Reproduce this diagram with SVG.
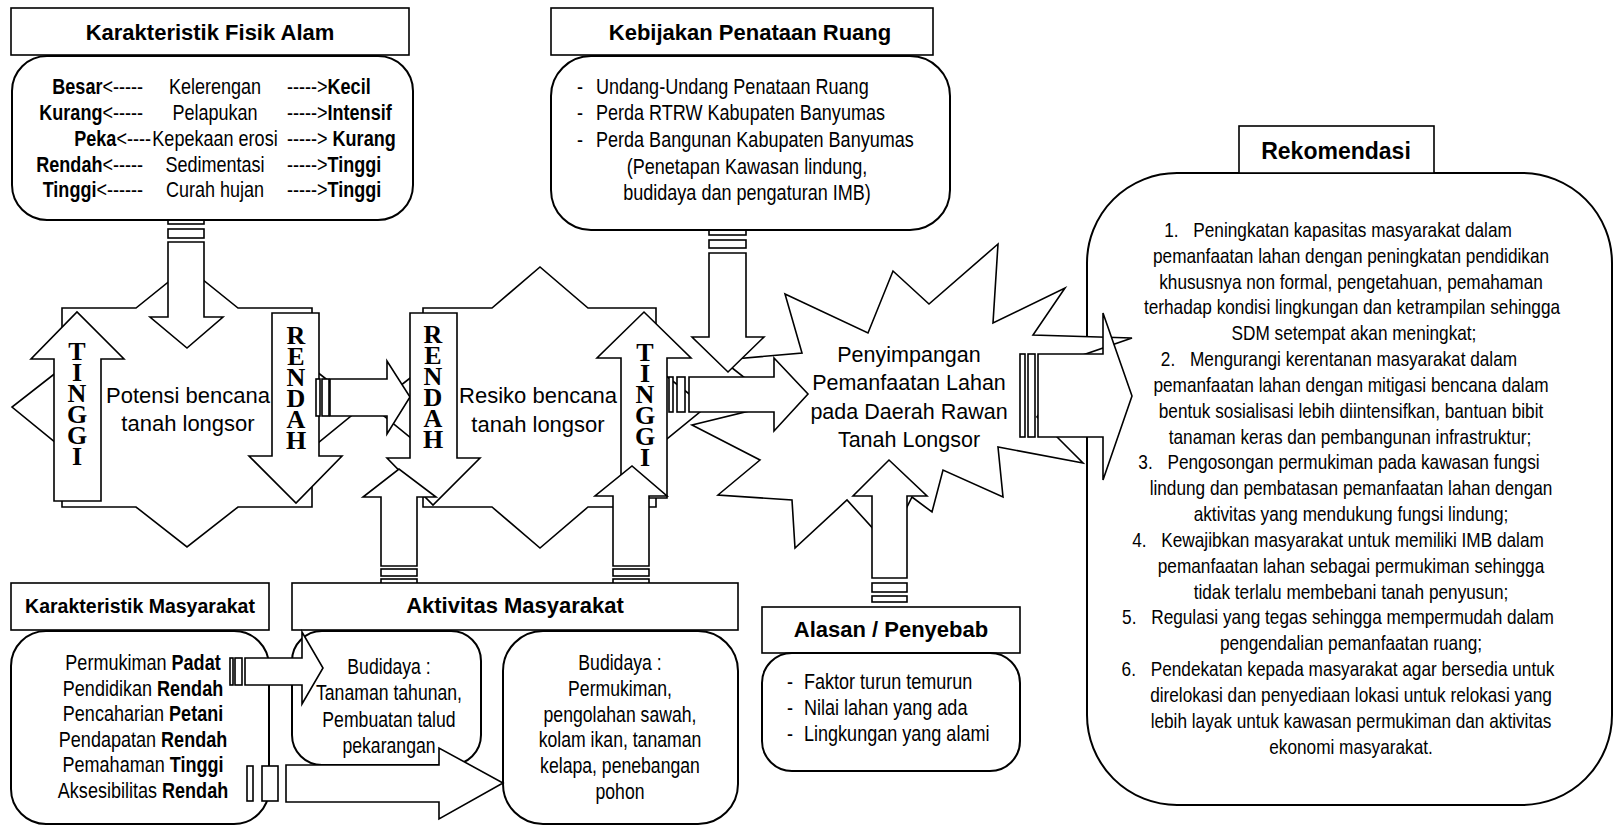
<svg xmlns="http://www.w3.org/2000/svg" width="1615" height="826" viewBox="0 0 1615 826">
<style>
.s{fill:#fff;stroke:#000;stroke-width:1.6;stroke-linejoin:miter}
.bx{fill:#fff;stroke:#000;stroke-width:2}
.t{font-family:"Liberation Sans",Arial,sans-serif;font-size:22px;fill:#000}
.r{font-family:"Liberation Sans",Arial,sans-serif;font-size:21px;fill:#000;text-anchor:middle}
.m{text-anchor:middle}
.e{text-anchor:end}
.b{font-weight:bold}
.ti{font-family:"Liberation Sans",Arial,sans-serif;font-weight:bold;text-anchor:middle;fill:#000}
.big{font-family:"Liberation Sans",Arial,sans-serif;text-anchor:middle;fill:#000}
.v{font-family:"Liberation Serif","Times New Roman",serif;font-size:26px;font-weight:bold;fill:#000;writing-mode:vertical-rl;text-orientation:upright}
</style>

<!-- Potensi shape -->
<g id="potensi">
<polygon class="s" points="62,308 136,308 187,267 238,308 312,308 312,368 362,407 312,448 312,507 238,507 187,547 136,507 62,507 62,448 12,407 62,368"/>
<text class="big" style="font-size:22px" x="188" y="403">Potensi bencana</text>
<text class="big" style="font-size:22px" x="188" y="431">tanah longsor</text>
</g>

<!-- Resiko shape -->
<g id="resiko">
<polygon class="s" points="423,308 492,308 540,267 588,308 656,308 656,368 706,407 656,448 656,507 588,507 540,548 492,507 423,507 423,448 373,407 423,368"/>
<text class="big" style="font-size:22px" x="538" y="403">Resiko bencana</text>
<text class="big" style="font-size:22px" x="538" y="432">tanah longsor</text>
</g>

<!-- Rekomendasi box -->
<g id="rekomendasi">
<rect class="bx" x="1087" y="173" width="525" height="632" rx="90" ry="90"/>
<rect class="s" x="1239" y="126" width="195" height="47"/>
<text class="ti" style="font-size:23px" x="1336" y="159">Rekomendasi</text>
<g transform="scale(0.82 1)">
<text class="r" x="1631.7" y="237">1.<tspan dx="18">Peningkatan kapasitas masyarakat dalam</tspan></text>
<text class="r" x="1647.6" y="262.8">pemanfaatan lahan dengan peningkatan pendidikan</text>
<text class="r" x="1647.6" y="288.7">khususnya non formal, pengetahuan, pemahaman</text>
<text class="r" x="1648.8" y="314.5">terhadap kondisi lingkungan dan ketrampilan sehingga</text>
<text class="r" x="1651.2" y="340.3">SDM setempat akan meningkat;</text>
<text class="r" x="1632.9" y="366.2">2.<tspan dx="18">Mengurangi kerentanan masyarakat dalam</tspan></text>
<text class="r" x="1647.6" y="392">pemanfaatan lahan dengan mitigasi bencana dalam</text>
<text class="r" x="1647.6" y="417.8">bentuk sosialisasi lebih diintensifkan, bantuan bibit</text>
<text class="r" x="1646.3" y="443.6">tanaman keras dan pembangunan infrastruktur;</text>
<text class="r" x="1632.9" y="469.5">3.<tspan dx="18">Pengosongan permukiman pada kawasan fungsi</tspan></text>
<text class="r" x="1647.6" y="495.3">lindung dan pembatasan pemanfaatan lahan dengan</text>
<text class="r" x="1647.6" y="521.1">aktivitas yang mendukung fungsi lindung;</text>
<text class="r" x="1631.7" y="547">4.<tspan dx="18">Kewajibkan masyarakat untuk memiliki IMB dalam</tspan></text>
<text class="r" x="1647.6" y="572.8">pemanfaatan lahan sebagai permukiman sehingga</text>
<text class="r" x="1647.6" y="598.6">tidak terlalu membebani tanah penyusun;</text>
<text class="r" x="1631.7" y="624.5">5.<tspan dx="18">Regulasi yang tegas sehingga mempermudah dalam</tspan></text>
<text class="r" x="1647.6" y="650.3">pengendalian pemanfaatan ruang;</text>
<text class="r" x="1631.7" y="676.1">6.<tspan dx="18">Pendekatan kepada masyarakat agar bersedia untuk</tspan></text>
<text class="r" x="1647.6" y="701.9">direlokasi dan penyediaan lokasi untuk relokasi yang</text>
<text class="r" x="1647.6" y="727.8">lebih layak untuk kawasan permukiman dan aktivitas</text>
<text class="r" x="1647.6" y="753.6">ekonomi masyarakat.</text>
</g>
</g>

<!-- Penyimpangan star -->
<g id="penyimpangan">
<polygon class="s" points="785,294 868,333 893,271 929,304 998,244 993,323 1065,288 1033,335 1132,338 1080,356 1037,417 1083,463 998,447 1003,497 943,470 932,512 912,497 888,545 847,500 795,548 792,500 718,495 760,460 692,425 778,404 722,360 802,353"/>
<text class="big" style="font-size:21.5px" x="909" y="362">Penyimpangan</text>
<text class="big" style="font-size:21.5px" x="909" y="390">Pemanfaatan Lahan</text>
<text class="big" style="font-size:21.5px" x="909" y="419">pada Daerah Rawan</text>
<text class="big" style="font-size:21.5px" x="909" y="447">Tanah Longsor</text>
</g>

<!-- Connectors / arrows -->
<g id="connectors">
<rect class="s" x="168" y="217" width="36" height="7"/>
<rect class="s" x="168" y="229" width="36" height="9"/>
<polygon class="s" points="168,242 204,242 204,317 223,317 187,348 150,317 168,317"/>
<polygon class="s" points="54,501 54,359 31,359 77,312 124,359 101,359 101,501"/>
<polygon class="s" points="272,313 319,313 319,456 342,456 296,503 249,456 272,456"/>
<rect class="s" x="316" y="379" width="4" height="37"/>
<rect class="s" x="322" y="379" width="7" height="37"/>
<polygon class="s" points="330,379 387,379 387,361 410,397 387,434 387,416 330,416"/>
<polygon class="s" points="410,313 457,313 457,458 480,458 433,505 387,458 410,458"/>
<polygon class="s" points="621,498 621,358 597,358 644,312 691,358 667,358 667,498"/>
<polygon class="s" points="381,566 381,497 363,497 399,469 436,497 417,497 417,566"/>
<rect class="s" x="381" y="569" width="36" height="7"/>
<rect class="s" x="381" y="579" width="36" height="8"/>
<polygon class="s" points="613,566 613,496 595,496 632,466 667,496 649,496 649,566"/>
<rect class="s" x="613" y="569" width="36" height="7"/>
<rect class="s" x="613" y="579" width="36" height="8"/>
<rect class="s" x="709" y="226" width="37" height="9"/>
<rect class="s" x="709" y="240" width="37" height="8"/>
<polygon class="s" points="709,253 746,253 746,337 764,337 728,372 692,337 709,337"/>
<rect class="s" x="669" y="377" width="4" height="35"/>
<rect class="s" x="677" y="377" width="8" height="35"/>
<polygon class="s" points="689,377 774,377 774,358 808,394 774,431 774,412 689,412"/>
<polygon class="s" points="872,578 872,496 853,496 889,460 927,496 907,496 907,578"/>
<rect class="s" x="872" y="583" width="35" height="9"/>
<rect class="s" x="872" y="596" width="35" height="6"/>
<rect class="s" x="1020" y="354" width="5" height="83"/>
<rect class="s" x="1028" y="354" width="7" height="83"/>
<polygon class="s" points="1038,354 1103,354 1103,313 1132,396 1103,480 1103,437 1038,437"/>
</g>

<!-- Karakteristik Fisik Alam -->
<g id="fisik">
<rect class="bx" x="12" y="56" width="401" height="164" rx="35" ry="35"/>
<rect class="s" x="11" y="8" width="398" height="47"/>
<text class="ti" style="font-size:22px" x="210" y="40">Karakteristik Fisik Alam</text>
<g class="t" transform="scale(0.82 1)">
<text class="e" x="174.4" y="94"><tspan class="b">Besar</tspan>&lt;-----</text>
<text class="m" x="262.2" y="94">Kelerengan</text>
<text x="350" y="94">-----&gt;<tspan class="b">Kecil</tspan></text>
<text class="e" x="174.4" y="120"><tspan class="b">Kurang</tspan>&lt;-----</text>
<text class="m" x="262.2" y="120">Pelapukan</text>
<text x="350" y="120">-----&gt;<tspan class="b">Intensif</tspan></text>
<text class="e" x="184.1" y="146"><tspan class="b">Peka</tspan>&lt;----</text>
<text class="m" x="262.2" y="146">Kepekaan erosi</text>
<text x="350" y="146">-----&gt; <tspan class="b">Kurang</tspan></text>
<text class="e" x="174.4" y="172"><tspan class="b">Rendah</tspan>&lt;-----</text>
<text class="m" x="262.2" y="172">Sedimentasi</text>
<text x="350" y="172">-----&gt;<tspan class="b">Tinggi</tspan></text>
<text class="e" x="174.4" y="197"><tspan class="b">Tinggi</tspan>&lt;------</text>
<text class="m" x="262.2" y="197">Curah hujan</text>
<text x="350" y="197">-----&gt;<tspan class="b">Tinggi</tspan></text>
</g>
</g>

<!-- Kebijakan Penataan Ruang -->
<g id="kebijakan">
<rect class="bx" x="551" y="56" width="399" height="174" rx="40" ry="40"/>
<rect class="s" x="551" y="8" width="382" height="47"/>
<text class="ti" style="font-size:22px" x="750" y="40">Kebijakan Penataan Ruang</text>
<g class="t" transform="scale(0.82 1)">
<text x="703.7" y="94">-</text><text x="726.8" y="94">Undang-Undang Penataan Ruang</text>
<text x="703.7" y="120">-</text><text x="726.8" y="120">Perda RTRW Kabupaten Banyumas</text>
<text x="703.7" y="147">-</text><text x="726.8" y="147">Perda Bangunan Kabupaten Banyumas</text>
<text class="m" x="911" y="174">(Penetapan Kawasan lindung,</text>
<text class="m" x="911" y="200">budidaya dan pengaturan IMB)</text>
</g>
</g>

<!-- Vertical labels -->
<g id="label-tinggi-1"><text class="v" x="77" y="337" textLength="134" lengthAdjust="spacing">TINGGI</text></g>
<g id="label-rendah-1"><text class="v" x="296" y="321" textLength="134" lengthAdjust="spacing">RENDAH</text></g>
<g id="label-rendah-2"><text class="v" x="433" y="320" textLength="134" lengthAdjust="spacing">RENDAH</text></g>
<g id="label-tinggi-2"><text class="v" x="645" y="338" textLength="134" lengthAdjust="spacing">TINGGI</text></g>

<!-- Aktivitas Masyarakat -->
<g id="aktivitas">
<rect class="s" x="292" y="583" width="446" height="47"/>
<text class="ti" style="font-size:22px" x="515" y="613">Aktivitas Masyarakat</text>
<rect class="bx" x="292" y="631" width="189" height="134" rx="30" ry="30"/>
<g class="t" style="font-size:21.5px" transform="scale(0.82 1)">
<text class="m" x="474.4" y="674">Budidaya :</text>
<text class="m" x="474.4" y="700.5">Tanaman tahunan,</text>
<text class="m" x="474.4" y="727">Pembuatan talud</text>
<text class="m" x="474.4" y="753.5">pekarangan</text>
</g>
<rect class="bx" x="503" y="631" width="235" height="193" rx="40" ry="40"/>
<g class="t" style="font-size:21.5px" transform="scale(0.82 1)">
<text class="m" x="756.1" y="670">Budidaya :</text>
<text class="m" x="756.1" y="695.8">Permukiman,</text>
<text class="m" x="756.1" y="721.6">pengolahan sawah,</text>
<text class="m" x="756.1" y="747.4">kolam ikan, tanaman</text>
<text class="m" x="756.1" y="773.2">kelapa, penebangan</text>
<text class="m" x="756.1" y="799">pohon</text>
</g>
</g>

<!-- Karakteristik Masyarakat -->
<g id="masyarakat">
<rect class="s" x="11" y="583" width="258" height="47"/>
<text class="ti" style="font-size:19.5px" x="140" y="613">Karakteristik Masyarakat</text>
<rect class="bx" x="11" y="631" width="258" height="193" rx="35" ry="35"/>
<g class="t" transform="scale(0.82 1)">
<text class="m" x="174.4" y="670">Permukiman <tspan class="b">Padat</tspan></text>
<text class="m" x="174.4" y="695.6">Pendidikan <tspan class="b">Rendah</tspan></text>
<text class="m" x="174.4" y="721.2">Pencaharian <tspan class="b">Petani</tspan></text>
<text class="m" x="174.4" y="746.8">Pendapatan <tspan class="b">Rendah</tspan></text>
<text class="m" x="174.4" y="772.4">Pemahaman <tspan class="b">Tinggi</tspan></text>
<text class="m" x="174.4" y="798">Aksesibilitas <tspan class="b">Rendah</tspan></text>
</g>
</g>

<!-- Masyarakat -> Aktivitas arrows -->
<g id="connectors-2">
<rect class="s" x="230" y="658" width="3" height="27"/>
<rect class="s" x="235" y="658" width="7" height="27"/>
<polygon class="s" points="245,658 302,658 302,632 323,668 302,704 302,685 245,685"/>
<rect class="s" x="247" y="766" width="6" height="35"/>
<rect class="s" x="262" y="766" width="16" height="35"/>
<polygon class="s" points="286,765 439,765 439,748 503,783 439,819 439,802 286,802"/>
</g>

<!-- Alasan / Penyebab -->
<g id="alasan">
<rect class="s" x="762" y="607" width="258" height="46"/>
<text class="ti" style="font-size:22px" x="891" y="637">Alasan / Penyebab</text>
<rect class="bx" x="762" y="653" width="258" height="118" rx="30" ry="30"/>
<g class="t" transform="scale(0.82 1)">
<text x="959.8" y="689">-</text><text x="980.5" y="689">Faktor turun temurun</text>
<text x="959.8" y="715">-</text><text x="980.5" y="715">Nilai lahan yang ada</text>
<text x="959.8" y="741">-</text><text x="980.5" y="741">Lingkungan yang alami</text>
</g>
</g>
</svg>
